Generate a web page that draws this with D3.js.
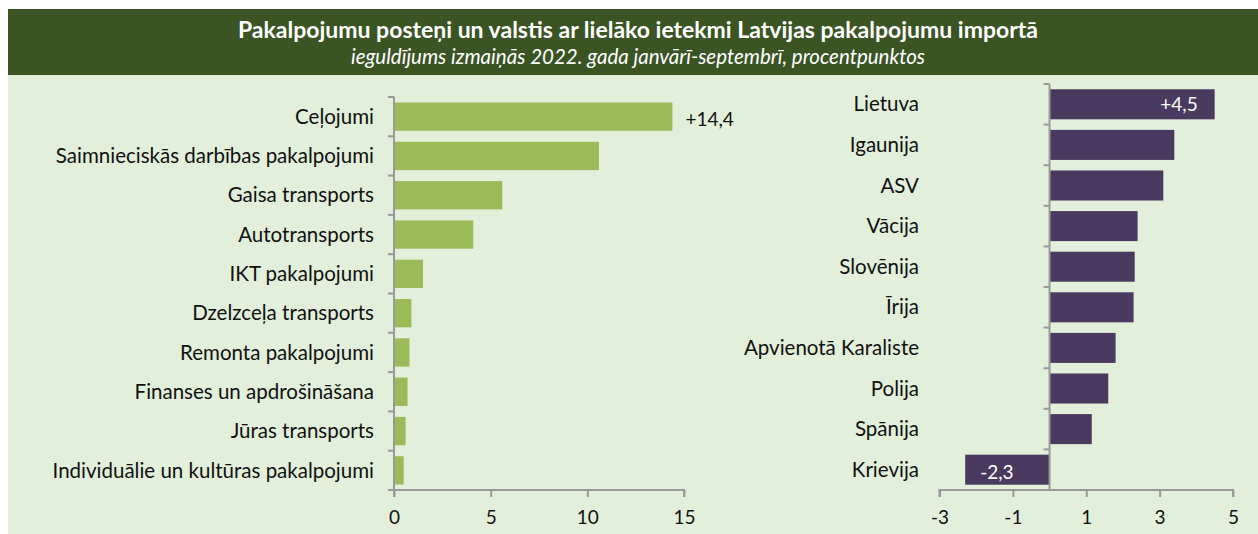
<!DOCTYPE html>
<html>
<head>
<meta charset="utf-8">
<script src="https://cdn.jsdelivr.net/npm/d3@7"></script>
<style>
  body { margin: 0; background: #fff; }
  svg { display: block; font-family: Lato, "Open Sans", sans-serif; }
</style>
</head>
<body>
<div id="chart"></div>
<script>
// pakalpojumu posteņi
const services = ["Ceļojumi", "Saimnieciskās darbības pakalpojumi", "Gaisa transports", "Autotransports",
    "IKT pakalpojumi", "Dzelzceļa transports", "Remonta pakalpojumi", "Finanses un apdrošināšana",
    "Jūras transports", "Individuālie un kultūras pakalpojumi"];
const serviceValues = [14.4, 10.6, 5.6, 4.1, 1.5, 0.9, 0.8, 0.7, 0.6, 0.5];
const serviceTicks = [0, 5, 10, 15];

// valstis
const countries = ["Lietuva", "Igaunija", "ASV", "Vācija", "Slovēnija", "Īrija",
    "Apvienotā Karaliste", "Polija", "Spānija", "Krievija"];
const countryValues = [4.5, 3.4, 3.1, 2.4, 2.32, 2.29, 1.8, 1.6, 1.15, -2.3];
const countryTicks = [-3, -1, 1, 3, 5];

const title = "Pakalpojumu posteņi un valstis ar lielāko ietekmi Latvijas pakalpojumu importā";
const subtitle = "ieguldījums izmaiņās 2022. gada janvārī-septembrī, procentpunktos";

const W = 1258, H = 534;
// latviešu formāts: komats, parasta defise
const fmt = v => (v > 0 ? "+" : v < 0 ? "-" : "") + Math.abs(v).toFixed(1).replace(".", ",");

const svg = d3.select("#chart").append("svg")
    .attr("width", W).attr("height", H);

svg.append("rect").attr("x", 8).attr("y", 75).attr("width", W - 8).attr("height", H - 75)
    .attr("fill", "#e2efda");
svg.append("rect").attr("x", 8).attr("y", 9).attr("width", W - 8).attr("height", 66)
    .attr("fill", "#3a5424");

svg.append("text").attr("x", 638).attr("y", 37.5).attr("text-anchor", "middle")
    .attr("fill", "#fff").attr("font-weight", "bold").attr("font-size", 23)
    .text(title);
svg.append("text").attr("x", 638).attr("y", 64).attr("text-anchor", "middle")
    .attr("fill", "#fff").attr("font-style", "italic").attr("font-size", 20.5)
    .text(subtitle);

function barChart(cfg) {
    const x = d3.scaleLinear().domain(cfg.domain).range(cfg.xRange);
    const y = d3.scaleBand().domain(cfg.cats).range(cfg.yRange)
        .paddingInner(cfg.pad).paddingOuter(cfg.pad / 2);
    const g = svg.append("g");
    const rows = cfg.cats.map((c, i) => ({c: c, v: cfg.vals[i]}));

    g.selectAll("rect.bar").data(rows).enter().append("rect")
        .attr("class", "bar")
        .attr("x", d => x(Math.min(0, d.v)))
        .attr("width", d => Math.abs(x(d.v) - x(0)))
        .attr("y", d => y(d.c))
        .attr("height", y.bandwidth())
        .attr("fill", cfg.color);

    // category labels
    g.selectAll("text.cat").data(rows).enter().append("text")
        .attr("class", "cat")
        .attr("x", cfg.labelX)
        .attr("y", d => y(d.c) + y.bandwidth() / 2)
        .attr("dy", "0.35em")
        .attr("text-anchor", "end")
        .attr("font-size", 20.5)
        .attr("fill", "#111")
        .text(d => d.c);

    // bottom axis
    const xAxis = g.append("g")
        .attr("transform", `translate(0,${cfg.yRange[1]})`)
        .call(d3.axisBottom(x).tickValues(cfg.ticks).tickSize(7).tickPadding(14)
            .tickFormat(d => d < 0 ? "-" + Math.abs(d) : String(d)));
    xAxis.select(".domain").attr("stroke", "#999").attr("stroke-width", 2)
        .attr("d", `M${cfg.xRange[0]},7V0H${cfg.xRange[1]}V7`);
    xAxis.selectAll(".tick line").attr("stroke", "#999").attr("stroke-width", 2);
    xAxis.selectAll(".tick text").attr("font-size", 19).attr("fill", "#111")
        .attr("font-family", "Lato, sans-serif");

    // vertical axis at zero
    const step = y.step();
    const bounds = d3.range(cfg.cats.length + 1).map(i => cfg.yRange[0] + i * step);
    g.append("line").attr("x1", x(0)).attr("x2", x(0))
        .attr("y1", cfg.yRange[0]).attr("y2", cfg.yRange[1])
        .attr("stroke", "#999").attr("stroke-width", 2);
    g.selectAll("line.ytick").data(bounds).enter().append("line")
        .attr("class", "ytick")
        .attr("x1", x(0) - 6).attr("x2", x(0))
        .attr("y1", d => d).attr("y2", d => d)
        .attr("stroke", "#999").attr("stroke-width", 2);

    return {x: x, y: y, g: g};
}

const left = barChart({
    cats: services, vals: serviceValues, domain: [0, 15], xRange: [394, 684],
    yRange: [97, 490], pad: 0.28, color: "#9bbb59", labelX: 374, ticks: serviceTicks
});
const right = barChart({
    cats: countries, vals: countryValues, domain: [-3, 5], xRange: [939.5, 1233],
    yRange: [84, 490], pad: 0.26, color: "#4b3a60", labelX: 919, ticks: countryTicks
});

// value labels
left.g.append("text")
    .attr("x", left.x(serviceValues[0]) + 13)
    .attr("y", left.y(services[0]) + left.y.bandwidth() / 2 + 3)
    .attr("dy", "0.35em").attr("font-size", 19).attr("fill", "#111")
    .text(fmt(serviceValues[0]));
right.g.append("text")
    .attr("x", right.x(countryValues[0]) - 17)
    .attr("y", right.y(countries[0]) + right.y.bandwidth() / 2)
    .attr("dy", "0.35em").attr("text-anchor", "end").attr("font-size", 19).attr("fill", "#fff")
    .text(fmt(countryValues[0]));
const last = countries.length - 1;
right.g.append("text")
    .attr("x", right.x(countryValues[last]) + 15)
    .attr("y", right.y(countries[last]) + right.y.bandwidth() / 2 + 3)
    .attr("dy", "0.35em").attr("font-size", 19).attr("fill", "#fff")
    .text(fmt(countryValues[last]));
</script>
</body>
</html>
